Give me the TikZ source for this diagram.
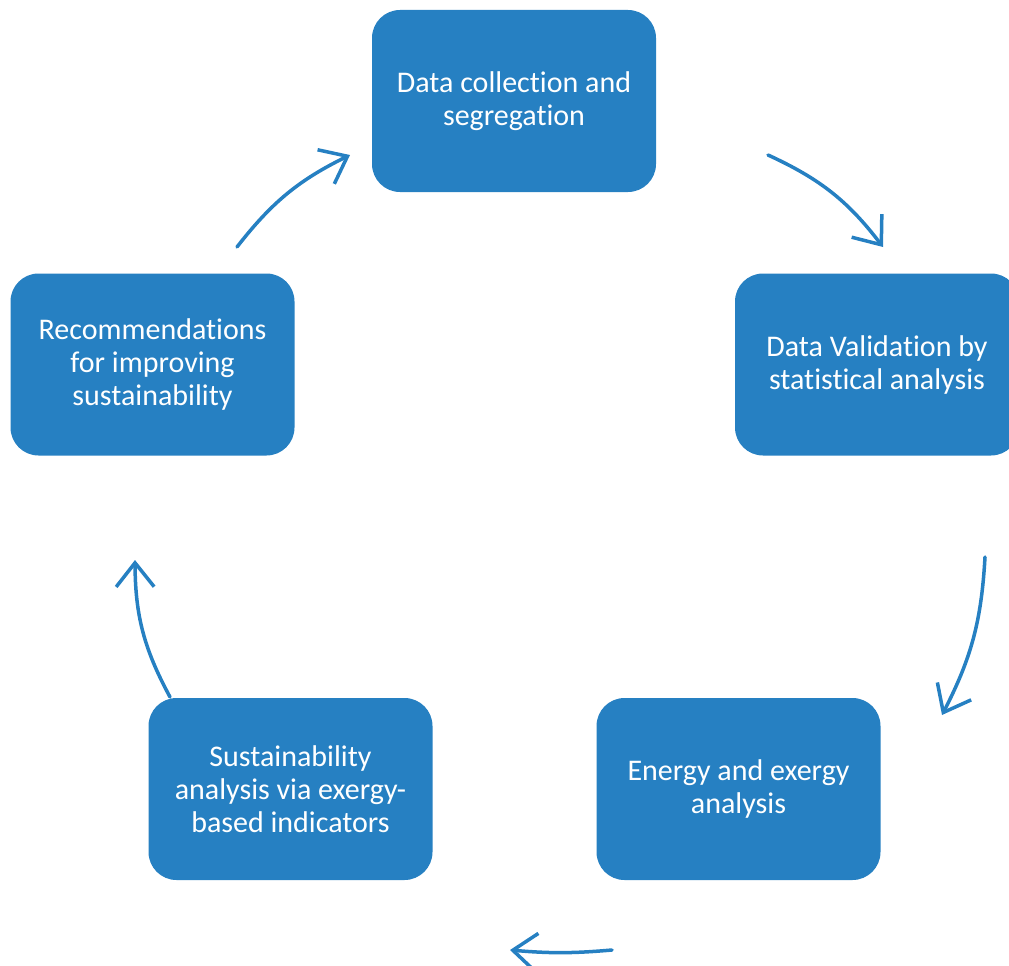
\documentclass[tikz,border=0pt]{standalone}
\usepackage{fontspec}
\setmainfont[Ligatures=NoCommon]{Carlito}
\usetikzlibrary{arrows.meta}
\definecolor{boxblue}{RGB}{38,128,194}
\tikzset{
  stagebox/.style={draw=none, fill=boxblue, text=white, rounded corners=28pt,
    minimum width=284pt, minimum height=182pt, align=center,
    font=\fontsize{30}{33}\selectfont},
  cyclearrow/.style={draw=boxblue, line width=3.5pt, line cap=round,
    -{Straight Barb[length=24pt,width=38pt,line width=3.5pt]}}
}

\begin{document}
\begin{tikzpicture}[x=1pt,y=-1pt]
			%%%%% START %%%%%
			
			\useasboundingbox (0,0) rectangle (1009,966);
			
			\node[stagebox] (collect) at (514, 101) {Data collection and\\segregation};
			\node[stagebox] (validate) at (877, 364.5) {Data Validation by\\statistical analysis};
			\node[stagebox] (energy) at (738.5, 789) {Energy and exergy\\analysis};
			\node[stagebox] (sustain) at (290.5, 789) {Sustainability\\analysis via exergy-\\based indicators};
			\node[stagebox] (recommend) at (152.5, 364.5) {Recommendations\\for improving\\sustainability};
			
			\coordinate (a1) at (768, 155);
			\coordinate (b1) at (883, 247);
			\coordinate (a2) at (985, 557);
			\coordinate (b2) at (942, 715);
			\coordinate (a3) at (612, 950);
			\coordinate (b3) at (510, 950);
			\coordinate (a4) at (170, 697);
			\coordinate (b4) at (135, 560);
			\coordinate (a5) at (237, 247);
			\coordinate (b5) at (350, 155);
			
			\draw[cyclearrow] (a1) to[bend left=14] (b1);
			\draw[cyclearrow] (a2) to[bend left=12] (b2);
			\draw[cyclearrow] (a3) to[bend left=5] (b3);
			\draw[cyclearrow] (a4) to[bend left=14] (b4);
			\draw[cyclearrow] (a5) to[bend left=13] (b5);
			
			%%%%% END %%%%%
\end{tikzpicture}
\end{document}
